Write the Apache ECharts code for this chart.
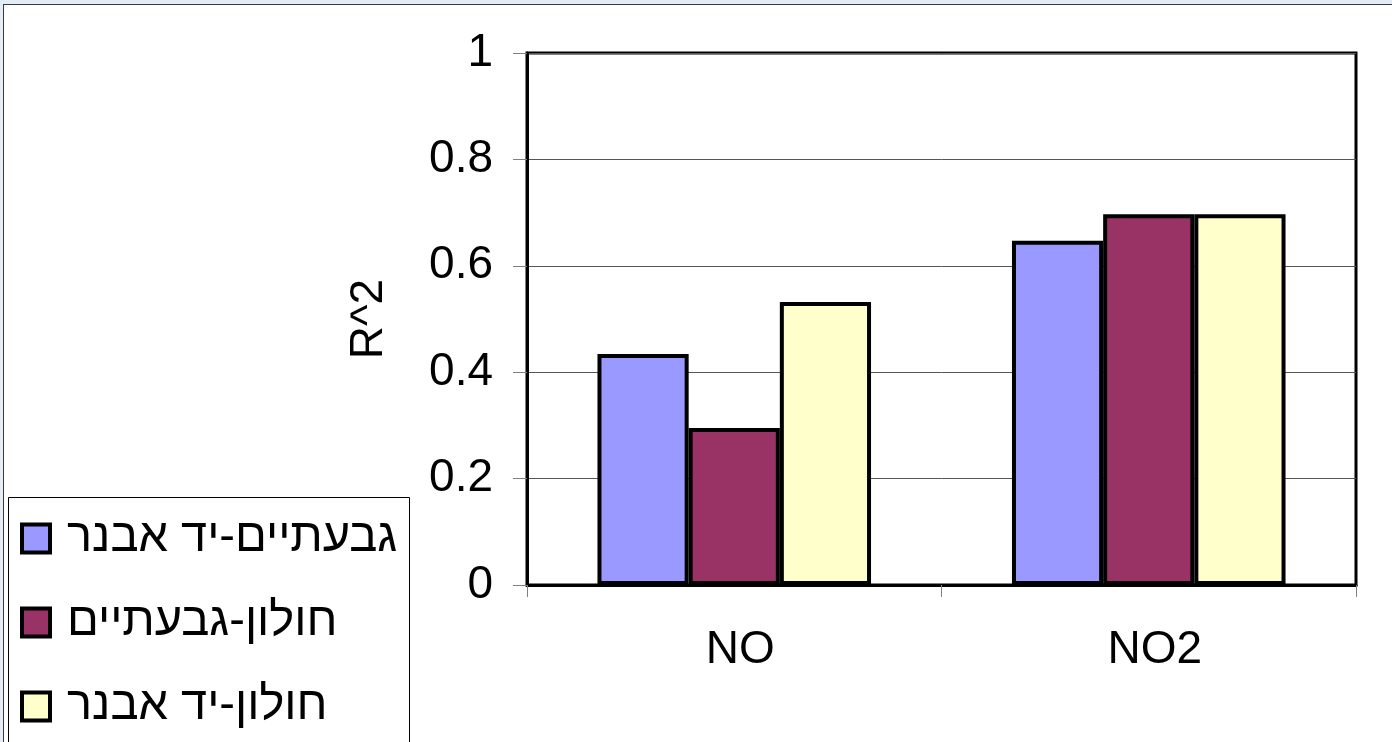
<!DOCTYPE html>
<html>
<head>
<meta charset="utf-8">
<script src="https://cdn.jsdelivr.net/npm/echarts@6/dist/echarts.min.js"></script>
<style>
  html, body { margin: 0; padding: 0; width: 1392px; height: 742px; overflow: hidden; background: #e3ecf7; }
  #frame { position: absolute; left: 3px; top: 4px; width: 1400px; height: 750px; background: #ffffff; border-left: 1px solid #3a3a3a; border-top: 1px solid #3a3a3a; }
  #chart { position: absolute; left: 0; top: 0; width: 1392px; height: 742px; }
</style>
</head>
<body>
<div id="frame"></div>
<div id="chart"></div>
<script>
// Pollutants on the category axis
const categories = ['NO', 'NO2'];

// Station pairs (legend entries)
const seriesNames = ['גבעתיים-יד אבנר', 'חולון-גבעתיים', 'חולון-יד אבנר'];

// R^2 per station pair, ordered like categories
const givatayimYadAvner = [0.434, 0.647];
const holonGivatayim = [0.295, 0.697];
const holonYadAvner = [0.532, 0.697];

// Value axis ticks
const yTicks = [0, 0.2, 0.4, 0.6, 0.8, 1];

const seriesValues = [givatayimYadAvner, holonGivatayim, holonYadAvner];
const seriesColors = ['#9999ff', '#993366', '#ffffcc'];

const FONT = '"Liberation Sans", Arial, "DejaVu Sans", sans-serif';

const chart = echarts.init(document.getElementById('chart'), null, { renderer: 'canvas' });

chart.setOption({
  backgroundColor: 'transparent',
  animation: false,
  textStyle: { fontFamily: FONT },
  graphic: [
    {
      type: 'rect',
      z: 0,
      shape: { x: 8.5, y: 497.5, width: 401, height: 260 },
      style: { fill: '#ffffff', stroke: '#000000', lineWidth: 1 }
    }
  ],
  legend: {
    orient: 'vertical',
    left: 20,
    top: 515,
    padding: 0,
    itemWidth: 28,
    itemHeight: 28,
    itemGap: 37,
    icon: 'rect',
    data: seriesNames,
    textStyle: {
      fontFamily: FONT,
      fontSize: 47,
      lineHeight: 47,
      color: '#000000',
      padding: [0, 0, 0, 12]
    },
    itemStyle: { borderColor: '#000000', borderWidth: 4 }
  },
  grid: {
    left: 527,
    right: 36,
    top: 53,
    bottom: 157,
    show: true,
    borderColor: '#000000',
    borderWidth: 3,
    backgroundColor: 'transparent'
  },
  xAxis: {
    type: 'category',
    data: categories,
    axisLine: { show: true, lineStyle: { color: '#000000', width: 3 } },
    axisTick: { show: true, length: 12, lineStyle: { color: '#808080', width: 1 } },
    axisLabel: {
      fontFamily: FONT,
      fontSize: 46,
      color: '#000000',
      margin: 42,
      padding: [0, 0, 0, 12]
    }
  },
  yAxis: {
    type: 'value',
    min: yTicks[0],
    max: yTicks[yTicks.length - 1],
    interval: 0.2,
    name: 'R^2',
    nameLocation: 'middle',
    nameGap: 135,
    nameRotate: 90,
    nameTextStyle: { fontFamily: FONT, fontSize: 46, color: '#000000' },
    axisLine: { show: true, lineStyle: { color: '#000000', width: 3 } },
    axisTick: { show: true, length: 14, lineStyle: { color: '#808080', width: 1 } },
    axisLabel: {
      fontFamily: FONT,
      fontSize: 46,
      color: '#000000',
      margin: 34
    },
    splitLine: { show: true, lineStyle: { color: '#555555', width: 1 } }
  },
  series: seriesNames.map((name, i) => ({
    name: name,
    type: 'bar',
    data: seriesValues[i],
    barGap: '0%',
    barCategoryGap: '34%',
    itemStyle: {
      color: seriesColors[i],
      borderColor: '#000000',
      borderWidth: 4
    }
  }))
});
</script>
</body>
</html>
